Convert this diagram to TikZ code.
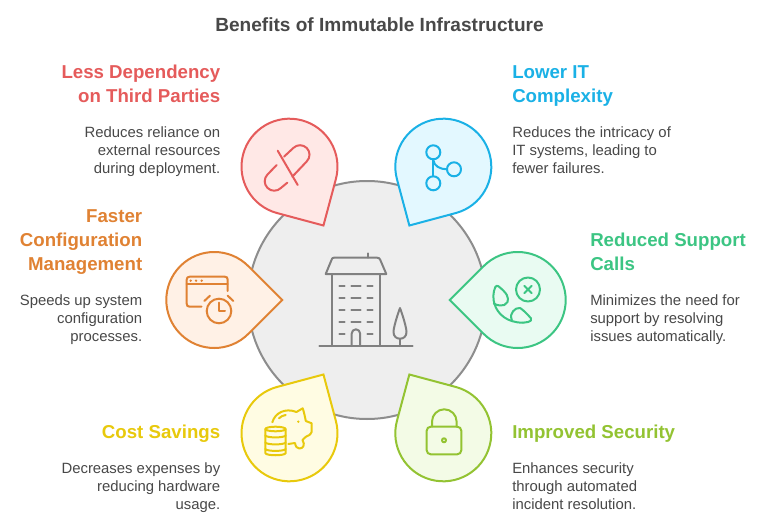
\documentclass[tikz,border=0pt]{standalone}
\usepackage{fontspec}
\setmainfont{Liberation Sans}
\definecolor{txt}{HTML}{484848}
\definecolor{icg}{HTML}{808080}
\definecolor{cred}{HTML}{E55B5B}\definecolor{fred}{HTML}{FFE8E6}
\definecolor{cblu}{HTML}{1AB1E6}\definecolor{fblu}{HTML}{E3F8FF}
\definecolor{cora}{HTML}{E08233}\definecolor{fora}{HTML}{FFF1E6}
\definecolor{cgrn}{HTML}{3CC583}\definecolor{fgrn}{HTML}{E9FBF2}
\definecolor{cyel}{HTML}{E8C90C}\definecolor{fyel}{HTML}{FFFCE3}
\definecolor{clim}{HTML}{93C332}\definecolor{flim}{HTML}{F3FBE6}
\newcommand{\drop}[4]{\draw[line width=1.5pt,line join=miter,draw=#3,fill=#4]
  ($(#1)+(#2:67.9)$) -- ($(#1)+(#2+45:48)$) arc[start angle=#2+45,end angle=#2+315,radius=48] -- cycle;}
\tikzset{
  head/.style={font=\fontsize{14pt}{18pt}\selectfont\bfseries,inner sep=0pt},
  body/.style={font=\fontsize{11.15pt}{13.5pt}\selectfont,text=txt,inner sep=0pt},
  ic/.style={line width=1.5pt,line cap=round,line join=round},
}
\usetikzlibrary{calc}
\begin{document}
\begin{tikzpicture}[x=.75pt,y=-.75pt]
\useasboundingbox (0,0) rectangle (768,528);
\fill[white] (0,0) rectangle (768,528);
\node[font=\fontsize{14.3pt}{18pt}\selectfont\bfseries,text=txt,inner sep=0pt] (title) at (379.5,24.5) {Benefits of Immutable Infrastructure};
\coordinate (hub) at (367,300);
\draw[line width=1.5pt,draw=icg!90,fill=black!6.5] (hub) circle[radius=119];
\coordinate (cr) at (289.5,166.7); \coordinate (cb) at (443.3,166.7);
\coordinate (co) at (214.3,300); \coordinate (cg) at (517.7,300);
\coordinate (cy) at (289.5,433.3); \coordinate (cl) at (443.3,433.3);
\drop{cr}{60}{cred}{fred}
\drop{cb}{120}{cblu}{fblu}
\drop{co}{0}{cora}{fora}
\drop{cg}{180}{cgrn}{fgrn}
\drop{cy}{-60}{cyel}{fyel}
\drop{cl}{-120}{clim}{flim}
% building
\begin{scope}[ic,draw=icg]
\draw (319.3,346) -- (412.7,346);
\draw (332,346) -- (332,274) (380,274) -- (380,346);
\draw (325.7,274) -- (386.3,274) -- (380.3,260) .. controls (379.6,258.3) and (379,257.7) .. (377,257.7) -- (334,257.7) .. controls (332.5,257.7) and (332,258.3) .. (331.5,260) -- cycle;
\draw (368,253.3) -- (368,257.7);
\foreach \y in {286,298,310,322}{
  \draw (339.3,\y) -- (344.7,\y) (351.3,\y) -- (360.7,\y) (367.3,\y) -- (372.7,\y);}
\draw (339.3,334) -- (344.7,334) (367.3,334) -- (372.7,334);
\draw (351.7,346) -- (351.7,333.5) arc[start angle=180,end angle=360,radius=4.2] -- (360.1,346);
\draw (400,308) .. controls (397,316) and (393.5,328) .. (393.5,332) .. controls (393.5,336.5) and (396.5,338.7) .. (400,338.7) .. controls (403.5,338.7) and (406.5,336.5) .. (406.5,332) .. controls (406.5,328) and (403,316) .. (400,308) -- cycle;
\draw (400,338.7) -- (400,346);
\end{scope}
% pill
\begin{scope}[ic,draw=cred]
\draw (277.7,150.7) -- (297.7,185);
\draw (284,156.7) -- (293.3,148) arc[start angle=-135,end angle=45,radius=9.5] -- (292.3,176.7);
\draw (276.7,165) -- (267.5,174.5) arc[start angle=-135,end angle=-315,radius=9.5] -- (287.3,182.7);
\end{scope}
% branch
\begin{scope}[ic,draw=cblu]
\draw (433.3,152.3) circle[radius=7] (454,169.3) circle[radius=7] (433.3,183.3) circle[radius=7];
\draw (433.3,159.3) -- (433.3,176.3);
\draw (433.3,160) .. controls (434,166) and (440,169.3) .. (447,169.3);
\end{scope}
% clock window
\begin{scope}[ic,draw=cora,fill=cora]
\draw (227.7,291) -- (227.7,279.7) .. controls (227.7,277.7) and (226.7,276.7) .. (224.7,276.7) -- (189.7,276.7) .. controls (187.7,276.7) and (186.7,277.7) .. (186.7,279.7) -- (186.7,303.7) .. controls (186.7,305.7) and (187.7,306.7) .. (189.7,306.7) -- (201.5,306.7);
\draw (186.7,284.3) -- (227.7,284.3);
\fill (190.7,280.7) circle[radius=1.3] (196,280.7) circle[radius=1.3] (201.7,280.7) circle[radius=1.3];
\draw (219,311) circle[radius=12.3];
\draw (219,302.7) -- (219,311) -- (225,311);
\draw (204.3,301) -- (210,295.7) (227.7,295.7) -- (233.3,301);
\end{scope}
% phone
\begin{scope}[ic,draw=cgrn]
\draw (528,289.5) circle[radius=12];
\draw (524.3,285.8) -- (531.7,293.2) (531.7,285.8) -- (524.3,293.2);
\draw (495.3,287) .. controls (496,285.7) and (497.3,285.5) .. (498.3,286.2) .. controls (502,289) and (505.5,292.5) .. (506.8,295) .. controls (508,297.5) and (508.5,300) .. (507.5,302) .. controls (506,305) and (503,305.8) .. (500,305.5) .. controls (497.5,305.3) and (495.5,304.5) .. (493.8,303.5);
\draw (495.3,287) .. controls (493,292) and (492.8,299) .. (494.5,304) .. controls (497.5,314) and (507,322.7) .. (523,322.7);
\draw (511.8,320) .. controls (510.5,316.5) and (511,313.5) .. (513,311.3) .. controls (514.5,309.3) and (517.5,307.3) .. (520,308) .. controls (523,309.5) and (528,315) .. (531,318.3) .. controls (532,320) and (530.5,321.8) .. (528,322) -- (523,322.7);
\end{scope}
% piggy
\begin{scope}[ic,draw=cyel,fill=cyel]
\draw (275.5,429) ellipse[x radius=10.2,y radius=2.3];
\draw (265.3,429) -- (265.3,453) .. controls (265.6,456) and (285.4,456) .. (285.7,453) -- (285.7,429);
\foreach \y in {435.5,442.5,449}{
  \draw (265.3,\y) .. controls (266.6,\y+2.5) and (284.4,\y+2.5) .. (285.7,\y);}
\draw (288.3,444) -- (295,443) .. controls (295.5,446.5) and (297,448.5) .. (299.5,448.5) .. controls (303,448.5) and (305.5,445) .. (302.5,440) .. controls (304,438.5) and (305,437.5) .. (306,436.7) .. controls (308,436) and (310.5,435) .. (311.7,431.7) -- (311.7,423.3) -- (305.8,421) .. controls (305,417) and (304,412) .. (302.7,408.3) -- (296.5,412) .. controls (285,407.5) and (275,413) .. (272.3,422.3);
\draw (279,418.3) .. controls (280.5,416.5) and (283,415.5) .. (285.7,415);
\fill (298.3,421.7) circle[radius=1.3];
\end{scope}
% lock
\begin{scope}[ic,draw=clim]
\draw[rounded corners=3] (426.7,426.7) rectangle (461.3,454.3);
\draw (432,426.7) -- (432,421.6) arc[start angle=180,end angle=360,radius=12.3] -- (456.6,426.7);
\draw (444,440.3) circle[radius=2];
\end{scope}
% texts
\node[head,text=cred,align=right,anchor=north east] (t1) at (220.5,65) {Less Dependency\\on Third Parties};
\node[body,align=right,anchor=north east] (b1) at (220.5,126) {Reduces reliance on\\external resources\\during deployment.};
\node[head,text=cblu,align=left,anchor=north west] (t2) at (512,65.6) {Lower IT\\Complexity};
\node[body,align=left,anchor=north west] (b2) at (512,126) {Reduces the intricacy of\\IT systems, leading to\\fewer failures.};
\node[head,text=cora,align=right,anchor=north east] (t3) at (142.5,209.5) {Faster\\Configuration\\Management};
\node[body,align=right,anchor=north east] (b3) at (142.5,294) {Speeds up system\\configuration\\processes.};
\node[head,text=cgrn,align=left,anchor=north west] (t4) at (590,233.2) {Reduced Support\\Calls};
\node[body,align=left,anchor=north west] (b4) at (590,294) {Minimizes the need for\\support by resolving\\issues automatically.};
\node[head,text=cyel,align=right,anchor=north east] (t5) at (220.5,425) {Cost Savings};
\node[body,align=right,anchor=north east] (b5) at (220.5,462) {Decreases expenses by\\reducing hardware\\usage.};
\node[head,text=clim,align=left,anchor=north west] (t6) at (512,425) {Improved Security};
\node[body,align=left,anchor=north west] (b6) at (512,462) {Enhances security\\through automated\\incident resolution.};
\end{tikzpicture}
\end{document}
